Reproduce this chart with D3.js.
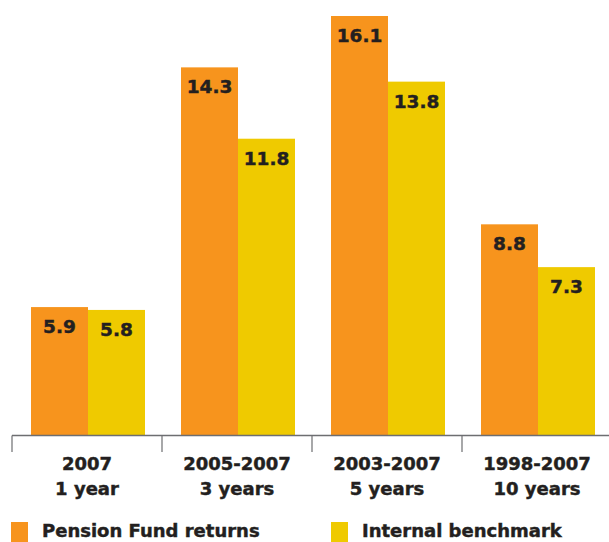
<!DOCTYPE html>
<html>
<head>
<meta charset="utf-8">
<script src="https://cdn.jsdelivr.net/npm/d3@7"></script>
<style>
  body { margin: 0; background: #fff; }
  svg text { font-family: "DejaVu Sans", sans-serif; font-weight: bold; fill: #231f20; stroke: #231f20; stroke-width: 0.45px; }
</style>
</head>
<body>
<div id="chart"></div>
<script>
// data
const periods = ['2007', '2005-2007', '2003-2007', '1998-2007'];
const spans = ['1 year', '3 years', '5 years', '10 years'];
const seriesNames = ['Pension Fund returns', 'Internal benchmark'];
const fundReturns = [5.9, 14.3, 16.1, 8.8];
const benchmark = [5.8, 11.8, 13.8, 7.3];
const colors = ['#f7941d', '#efca00'];

const width = 609, height = 542;
const baseY = 435.5;

const svg = d3.select('#chart')
    .append('svg')
    .attr('width', width)
    .attr('height', height);

const x0 = d3.scaleBand()
    .domain(periods)
    .range([12, 612])
    .padding(0);

const x1 = d3.scaleBand()
    .domain(seriesNames)
    .range([19, 133]);

// the original chart is not drawn from zero
const y = d3.scaleLinear()
    .domain([1.4, 16.1])
    .range([baseY, 16]);

const rows = periods.map((p, i) => ({ period: p, values: [fundReturns[i], benchmark[i]] }));

const groups = svg.selectAll('.group')
    .data(rows)
    .enter()
    .append('g')
    .attr('class', 'group')
    .attr('transform', d => `translate(${x0(d.period)},0)`);

groups.selectAll('rect')
    .data(d => d.values.map((v, j) => ({ name: seriesNames[j], value: v, j: j })))
    .enter()
    .append('rect')
    .attr('x', d => x1(d.name))
    .attr('y', d => y(d.value))
    .attr('width', x1.bandwidth())
    .attr('height', d => baseY - y(d.value))
    .attr('fill', d => colors[d.j]);

groups.selectAll('.val')
    .data(d => d.values.map((v, j) => ({ name: seriesNames[j], value: v })))
    .enter()
    .append('text')
    .attr('class', 'val')
    .attr('x', d => x1(d.name) + x1.bandwidth() / 2)
    .attr('y', d => y(d.value) + 26)
    .attr('text-anchor', 'middle')
    .style('font-size', '18.5px')
    .text(d => d.value.toFixed(1));

// axis line and ticks
svg.append('line')
    .attr('x1', 12).attr('x2', width)
    .attr('y1', baseY).attr('y2', baseY)
    .attr('stroke', '#6d6e71')
    .attr('stroke-width', 1.5);

svg.selectAll('.tick')
    .data(periods)
    .enter()
    .append('line')
    .attr('class', 'tick')
    .attr('x1', d => x0(d)).attr('x2', d => x0(d))
    .attr('y1', baseY).attr('y2', 452)
    .attr('stroke', '#6d6e71')
    .attr('stroke-width', 1.2);

const cat = svg.selectAll('.cat')
    .data(periods)
    .enter()
    .append('text')
    .attr('class', 'cat')
    .attr('text-anchor', 'middle')
    .style('font-size', '18px');

cat.append('tspan')
    .attr('x', d => x0(d) + x0.bandwidth() / 2)
    .attr('y', 470)
    .text(d => d);

cat.append('tspan')
    .attr('x', d => x0(d) + x0.bandwidth() / 2)
    .attr('y', 495)
    .text((d, i) => spans[i]);

// legend
const legendX = [11, 331];
const legend = svg.selectAll('.legend')
    .data(seriesNames)
    .enter()
    .append('g')
    .attr('class', 'legend')
    .attr('transform', (d, i) => `translate(${legendX[i]},522)`);

legend.append('rect')
    .attr('width', 17)
    .attr('height', 20)
    .attr('fill', (d, i) => colors[i]);

legend.append('text')
    .attr('x', 31)
    .attr('y', 15)
    .style('font-size', '18px')
    .text(d => d);
</script>
</body>
</html>
